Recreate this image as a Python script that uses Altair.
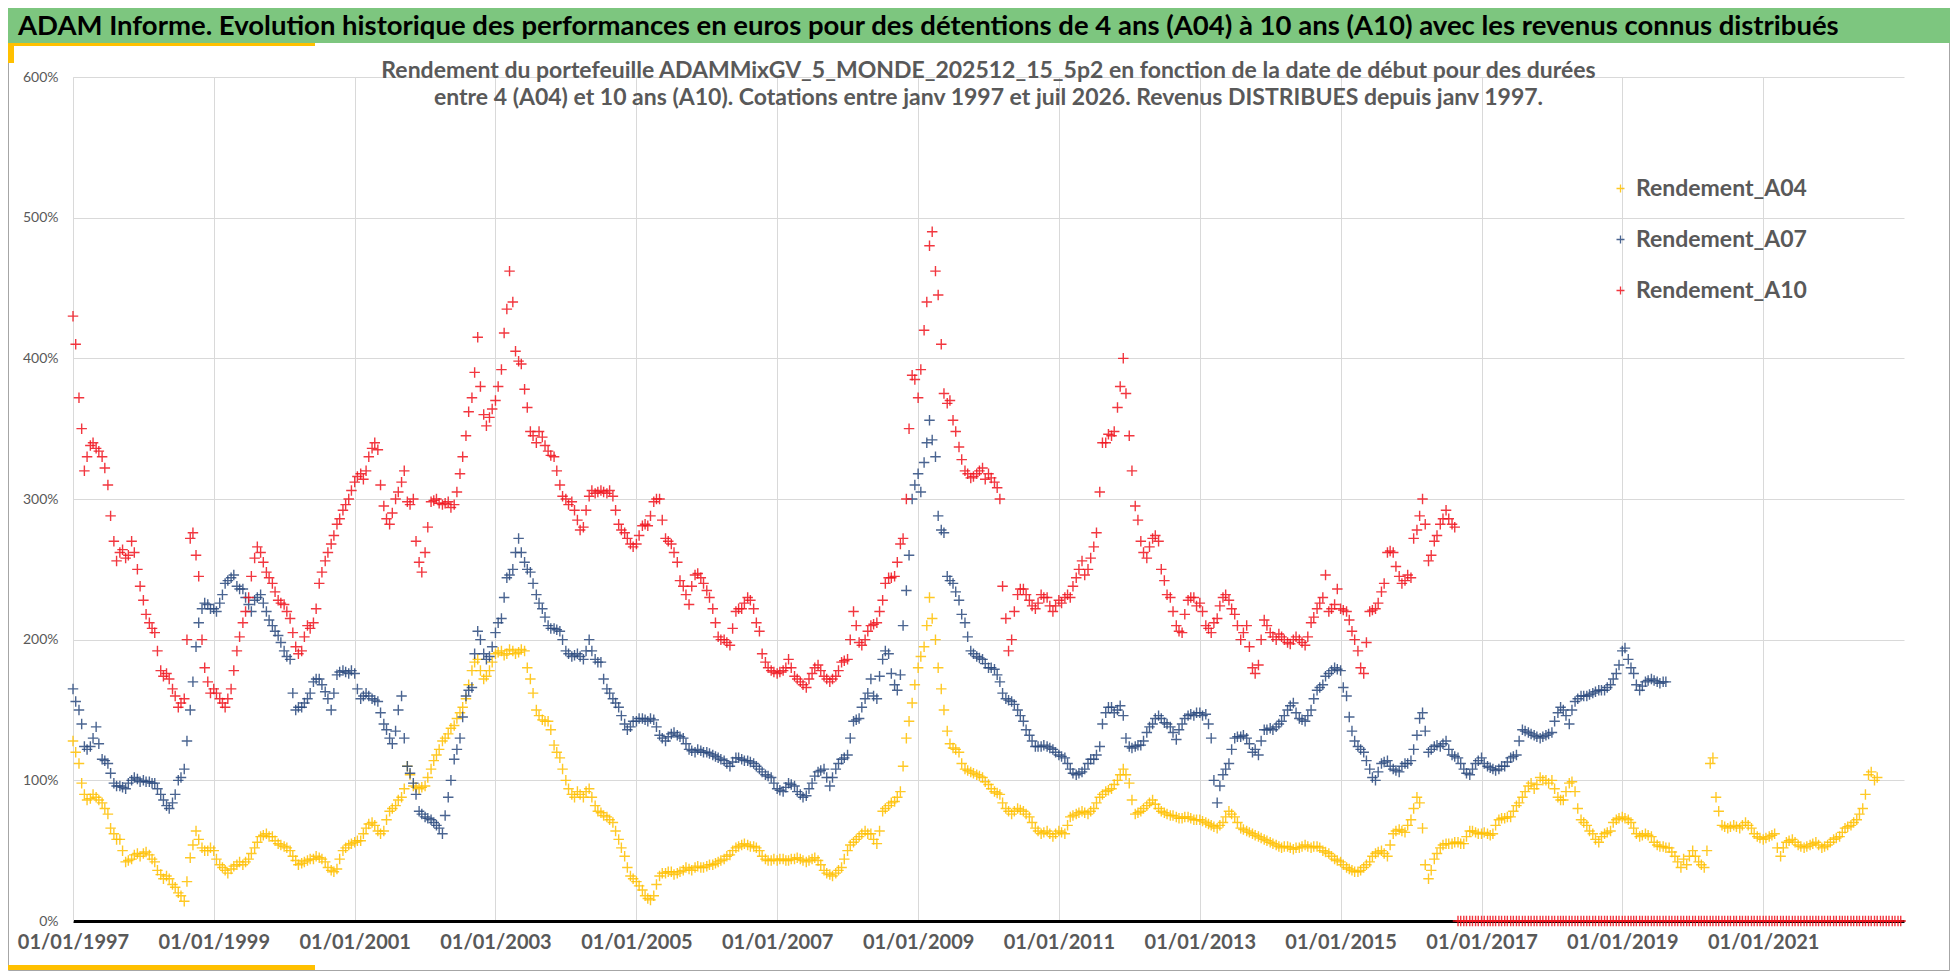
import pandas as pd
import altair as alt

banner_title = ("ADAM Informe. Evolution historique des performances en euros pour des "
                "détentions de 4 ans (A04) à 10 ans (A10) avec les revenus connus distribués")
chart_title = [
    "Rendement du portefeuille ADAMMixGV_5_MONDE_202512_15_5p2  en fonction de la date de début pour des durées",
    "entre 4 (A04) et 10 ans (A10). Cotations entre janv 1997 et juil 2026. Revenus DISTRIBUES depuis janv 1997.",
]

series_names = ["Rendement_A04", "Rendement_A07", "Rendement_A10"]
series_colours = ["#FFC000", "#2B4A7E", "#F0141E"]

tick_years = [1997, 1999, 2001, 2003, 2005, 2007, 2009, 2011, 2013, 2015, 2017, 2019, 2021]
y_ticks = [0, 1, 2, 3, 4, 5, 6]

# values: on the 1st ("debut") and the 15th ("milieu") of each month from Jan 1997
a04_debut = [
    1.28, 1.12, 0.90, 0.87, 0.88, 0.84, 0.76, 0.62, 0.58, 0.42, 0.44, 0.48,
    0.48, 0.47, 0.42, 0.33, 0.32, 0.26, 0.20, 0.14, 0.45, 0.64, 0.52, 0.50,
    0.50, 0.40, 0.36, 0.37, 0.40, 0.40, 0.44, 0.52, 0.60, 0.62, 0.60, 0.55,
    0.53, 0.50, 0.43, 0.41, 0.43, 0.44, 0.45, 0.42, 0.36, 0.37, 0.50, 0.54,
    0.56, 0.57, 0.66, 0.70, 0.64, 0.64, 0.78, 0.82, 0.88, 1.10, 0.96, 0.94,
    0.96, 1.08, 1.18, 1.28, 1.33, 1.39, 1.48, 1.58, 1.78, 1.86, 1.72, 1.78,
    1.90, 1.92, 1.90, 1.92, 1.91, 1.92, 1.72, 1.50, 1.43, 1.42, 1.25, 1.16,
    1.00, 0.90, 0.92, 0.88, 0.94, 0.82, 0.77, 0.74, 0.70, 0.58, 0.46, 0.32,
    0.28, 0.22, 0.16, 0.18, 0.32, 0.34, 0.35, 0.34, 0.36, 0.37, 0.38, 0.38,
    0.39, 0.40, 0.42, 0.44, 0.47, 0.52, 0.54, 0.54, 0.53, 0.50, 0.44, 0.43,
    0.43, 0.44, 0.43, 0.44, 0.44, 0.42, 0.44, 0.43, 0.36, 0.33, 0.34, 0.38,
    0.50, 0.56, 0.60, 0.64, 0.62, 0.55, 0.78, 0.82, 0.85, 0.92, 1.30, 1.55,
    1.80, 1.95, 2.30, 2.00, 1.65, 1.35, 1.23, 1.20, 1.08, 1.06, 1.04, 1.02,
    0.97, 0.92, 0.90, 0.80, 0.76, 0.80, 0.78, 0.74, 0.66, 0.62, 0.64, 0.60,
    0.64, 0.62, 0.74, 0.76, 0.78, 0.76, 0.80, 0.88, 0.92, 0.94, 1.00, 1.08,
    0.98, 0.76, 0.78, 0.82, 0.86, 0.80, 0.77, 0.75, 0.74, 0.73, 0.74, 0.72,
    0.72, 0.70, 0.68, 0.66, 0.70, 0.78, 0.74, 0.66, 0.64, 0.62, 0.60, 0.58,
    0.56, 0.54, 0.52, 0.53, 0.51, 0.52, 0.54, 0.52, 0.53, 0.50, 0.48, 0.44,
    0.42, 0.38, 0.36, 0.35, 0.38, 0.42, 0.48, 0.50, 0.46, 0.62, 0.65, 0.63,
    0.72, 0.88, 0.66, 0.30, 0.44, 0.52, 0.55, 0.55, 0.56, 0.55, 0.64, 0.63,
    0.62, 0.62, 0.62, 0.72, 0.73, 0.74, 0.82, 0.88, 0.96, 0.94, 1.02, 1.00,
    1.00, 0.88, 0.86, 0.98, 0.92, 0.72, 0.68, 0.62, 0.56, 0.62, 0.64, 0.72,
    0.74, 0.72, 0.66, 0.60, 0.62, 0.60, 0.54, 0.53, 0.52, 0.46, 0.38, 0.40,
    0.50, 0.42, 0.38, 1.12, 0.88, 0.68, 0.66, 0.68, 0.66, 0.70, 0.66, 0.60,
    0.58, 0.60, 0.62, 0.46, 0.56, 0.58, 0.54, 0.52, 0.54, 0.56, 0.52, 0.54,
    0.58, 0.60, 0.66, 0.68, 0.72, 0.80, 1.04, 1.00,
]
a04_milieu = [
    1.20, 0.98, 0.86, 0.90, 0.86, 0.80, 0.66, 0.58, 0.50, 0.43, 0.47, 0.46,
    0.49, 0.44, 0.36, 0.30, 0.30, 0.24, 0.18, 0.28, 0.54, 0.58, 0.50, 0.52,
    0.44, 0.38, 0.34, 0.39, 0.42, 0.42, 0.48, 0.56, 0.61, 0.60, 0.57, 0.54,
    0.52, 0.46, 0.40, 0.42, 0.44, 0.46, 0.44, 0.38, 0.35, 0.44, 0.52, 0.55,
    0.57, 0.62, 0.69, 0.68, 0.62, 0.72, 0.80, 0.86, 0.94, 1.04, 0.95, 0.95,
    1.02, 1.14, 1.22, 1.30, 1.37, 1.44, 1.52, 1.68, 1.84, 1.78, 1.74, 1.84,
    1.91, 1.89, 1.93, 1.90, 1.93, 1.80, 1.62, 1.46, 1.42, 1.36, 1.20, 1.08,
    0.94, 0.88, 0.90, 0.92, 0.88, 0.78, 0.75, 0.72, 0.64, 0.52, 0.38, 0.30,
    0.25, 0.18, 0.15, 0.26, 0.34, 0.35, 0.33, 0.35, 0.38, 0.36, 0.39, 0.38,
    0.40, 0.41, 0.43, 0.46, 0.50, 0.53, 0.55, 0.53, 0.52, 0.46, 0.43, 0.44,
    0.44, 0.43, 0.44, 0.45, 0.43, 0.43, 0.45, 0.40, 0.34, 0.32, 0.36, 0.44,
    0.54, 0.58, 0.62, 0.62, 0.58, 0.64, 0.80, 0.84, 0.88, 1.10, 1.42, 1.68,
    1.88, 2.10, 2.15, 1.80, 1.50, 1.26, 1.22, 1.12, 1.07, 1.05, 1.03, 0.99,
    0.94, 0.91, 0.84, 0.78, 0.78, 0.79, 0.76, 0.70, 0.64, 0.63, 0.62, 0.62,
    0.63, 0.68, 0.75, 0.77, 0.77, 0.78, 0.84, 0.90, 0.93, 0.97, 1.04, 1.04,
    0.86, 0.77, 0.80, 0.84, 0.83, 0.78, 0.76, 0.75, 0.73, 0.74, 0.73, 0.72,
    0.71, 0.69, 0.67, 0.68, 0.74, 0.76, 0.70, 0.65, 0.63, 0.61, 0.59, 0.57,
    0.55, 0.53, 0.53, 0.52, 0.52, 0.53, 0.53, 0.53, 0.52, 0.49, 0.46, 0.43,
    0.40, 0.37, 0.35, 0.36, 0.40, 0.46, 0.49, 0.48, 0.54, 0.64, 0.64, 0.68,
    0.80, 0.84, 0.40, 0.36, 0.48, 0.54, 0.55, 0.56, 0.55, 0.60, 0.64, 0.62,
    0.63, 0.61, 0.68, 0.73, 0.74, 0.78, 0.84, 0.92, 0.98, 0.97, 1.00, 0.98,
    0.94, 0.86, 0.92, 0.99, 0.80, 0.70, 0.64, 0.58, 0.60, 0.63, 0.70, 0.73,
    0.73, 0.70, 0.62, 0.61, 0.61, 0.56, 0.53, 0.52, 0.49, 0.42, 0.44, 0.46,
    0.46, 0.40, 0.50, 1.16, 0.78, 0.67, 0.67, 0.67, 0.68, 0.68, 0.62, 0.59,
    0.59, 0.61, 0.52, 0.52, 0.57, 0.56, 0.53, 0.53, 0.55, 0.54, 0.53, 0.56,
    0.59, 0.63, 0.67, 0.70, 0.76, 0.90, 1.06, 1.02,
]
a07_debut = [
    1.65, 1.50, 1.24, 1.24, 1.38, 1.15, 1.12, 0.98, 0.96, 0.94, 1.00, 1.01,
    1.00, 0.99, 0.98, 0.90, 0.82, 0.84, 1.00, 1.08, 1.50, 1.95, 2.22, 2.25,
    2.22, 2.26, 2.40, 2.44, 2.38, 2.36, 2.25, 2.28, 2.32, 2.20, 2.10, 2.03,
    1.92, 1.86, 1.50, 1.52, 1.58, 1.70, 1.72, 1.63, 1.50, 1.75, 1.78, 1.76,
    1.76, 1.58, 1.62, 1.58, 1.56, 1.40, 1.30, 1.35, 1.60, 1.10, 0.98, 0.78,
    0.74, 0.72, 0.68, 0.62, 0.88, 1.15, 1.30, 1.60, 1.66, 2.06, 1.90, 1.88,
    2.05, 2.15, 2.44, 2.50, 2.72, 2.55, 2.48, 2.32, 2.22, 2.10, 2.08, 2.06,
    1.92, 1.88, 1.90, 1.86, 2.00, 1.86, 1.84, 1.65, 1.58, 1.52, 1.40, 1.38,
    1.42, 1.44, 1.42, 1.43, 1.32, 1.28, 1.33, 1.32, 1.30, 1.22, 1.20, 1.21,
    1.20, 1.18, 1.16, 1.14, 1.10, 1.16, 1.15, 1.14, 1.12, 1.08, 1.04, 1.02,
    0.94, 0.92, 0.98, 0.96, 0.90, 0.89, 0.98, 1.06, 1.08, 0.96, 1.08, 1.15,
    1.18, 1.42, 1.44, 1.58, 1.72, 1.58, 1.86, 1.90, 1.68, 1.75, 2.35, 3.00,
    3.18, 3.26, 3.56, 3.30, 2.78, 2.45, 2.40, 2.28, 2.12, 1.92, 1.88, 1.86,
    1.80, 1.79, 1.70, 1.58, 1.56, 1.50, 1.42, 1.32, 1.24, 1.24, 1.24, 1.22,
    1.18, 1.16, 1.08, 1.04, 1.06, 1.12, 1.15, 1.24, 1.48, 1.52, 1.50, 1.46,
    1.24, 1.24, 1.25, 1.34, 1.40, 1.46, 1.41, 1.38, 1.29, 1.40, 1.46, 1.46,
    1.48, 1.47, 1.30, 0.84, 1.04, 1.12, 1.30, 1.31, 1.30, 1.20, 1.18, 1.36,
    1.37, 1.38, 1.42, 1.50, 1.55, 1.44, 1.42, 1.50, 1.64, 1.68, 1.76, 1.80,
    1.78, 1.60, 1.35, 1.24, 1.20, 1.08, 1.00, 1.12, 1.14, 1.08, 1.06, 1.12,
    1.14, 1.32, 1.48, 1.20, 1.24, 1.24, 1.28, 1.18, 1.16, 1.08, 1.04, 1.12,
    1.16, 1.10, 1.08, 1.08, 1.10, 1.16, 1.18, 1.36, 1.34, 1.32, 1.30, 1.32,
    1.34, 1.48, 1.50, 1.40, 1.56, 1.60, 1.60, 1.62, 1.64, 1.64, 1.68, 1.76,
    1.92, 1.86, 1.76, 1.64, 1.70, 1.72, 1.70, 1.70,
]
a07_milieu = [
    1.56, 1.40, 1.22, 1.30, 1.26, 1.14, 1.05, 0.96, 0.95, 0.98, 1.02, 0.99,
    0.99, 0.98, 0.94, 0.86, 0.80, 0.90, 1.02, 1.28, 1.70, 2.12, 2.26, 2.22,
    2.20, 2.32, 2.42, 2.46, 2.36, 2.30, 2.20, 2.30, 2.26, 2.14, 2.06, 1.98,
    1.88, 1.62, 1.52, 1.55, 1.62, 1.72, 1.68, 1.58, 1.62, 1.77, 1.77, 1.78,
    1.65, 1.60, 1.60, 1.57, 1.48, 1.36, 1.26, 1.50, 1.30, 1.05, 0.90, 0.76,
    0.73, 0.70, 0.66, 0.75, 1.00, 1.22, 1.45, 1.64, 1.90, 2.00, 1.86, 1.95,
    2.12, 2.30, 2.46, 2.62, 2.62, 2.50, 2.40, 2.26, 2.16, 2.08, 2.07, 2.00,
    1.90, 1.89, 1.88, 1.92, 1.92, 1.84, 1.72, 1.62, 1.55, 1.46, 1.36, 1.42,
    1.44, 1.43, 1.44, 1.38, 1.30, 1.31, 1.34, 1.31, 1.26, 1.21, 1.22, 1.20,
    1.19, 1.17, 1.15, 1.12, 1.13, 1.16, 1.14, 1.13, 1.10, 1.06, 1.03, 0.98,
    0.93, 0.95, 0.97, 0.92, 0.88, 0.94, 1.03, 1.07, 1.02, 1.02, 1.12, 1.16,
    1.30, 1.43, 1.52, 1.62, 1.60, 1.74, 1.92, 1.76, 1.64, 2.10, 2.60, 3.10,
    3.05, 3.40, 3.42, 2.88, 2.76, 2.42, 2.34, 2.18, 2.02, 1.90, 1.87, 1.83,
    1.80, 1.75, 1.62, 1.57, 1.54, 1.46, 1.36, 1.28, 1.24, 1.25, 1.23, 1.20,
    1.17, 1.12, 1.05, 1.05, 1.08, 1.15, 1.18, 1.40, 1.52, 1.48, 1.53, 1.30,
    1.23, 1.25, 1.28, 1.38, 1.44, 1.44, 1.40, 1.34, 1.36, 1.44, 1.47, 1.48,
    1.46, 1.40, 1.00, 0.96, 1.08, 1.22, 1.31, 1.32, 1.26, 1.22, 1.28, 1.36,
    1.36, 1.40, 1.46, 1.53, 1.48, 1.43, 1.46, 1.58, 1.66, 1.74, 1.78, 1.79,
    1.66, 1.45, 1.28, 1.22, 1.14, 1.02, 1.06, 1.13, 1.10, 1.07, 1.10, 1.12,
    1.22, 1.44, 1.35, 1.22, 1.25, 1.26, 1.22, 1.17, 1.12, 1.05, 1.08, 1.14,
    1.12, 1.09, 1.07, 1.10, 1.13, 1.17, 1.28, 1.35, 1.33, 1.31, 1.31, 1.33,
    1.42, 1.52, 1.46, 1.50, 1.58, 1.60, 1.61, 1.63, 1.64, 1.66, 1.72, 1.82,
    1.94, 1.80, 1.68, 1.67, 1.71, 1.71, 1.69, 1.70,
]
a10_debut = [
    4.30, 3.72, 3.20, 3.38, 3.36, 3.30, 3.10, 2.70, 2.62, 2.58, 2.70, 2.50,
    2.28, 2.12, 2.05, 1.78, 1.76, 1.65, 1.52, 1.58, 2.72, 2.60, 2.00, 1.70,
    1.65, 1.58, 1.52, 1.65, 1.92, 2.12, 2.30, 2.58, 2.62, 2.48, 2.40, 2.28,
    2.25, 2.15, 1.95, 1.92, 2.10, 2.12, 2.40, 2.56, 2.68, 2.82, 2.92, 3.00,
    3.12, 3.18, 3.20, 3.36, 3.35, 2.95, 2.82, 3.00, 3.12, 2.98, 3.00, 2.55,
    2.62, 2.98, 3.00, 2.96, 2.98, 2.96, 3.18, 3.45, 3.72, 4.15, 3.60, 3.58,
    3.70, 3.92, 4.35, 4.40, 3.98, 3.78, 3.48, 3.40, 3.44, 3.34, 3.30, 3.10,
    3.00, 2.98, 2.85, 2.80, 3.02, 3.04, 3.06, 3.04, 3.02, 2.82, 2.76, 2.68,
    2.68, 2.81, 2.81, 2.98, 3.00, 2.72, 2.68, 2.55, 2.38, 2.25, 2.46, 2.44,
    2.35, 2.22, 2.02, 2.00, 1.96, 2.20, 2.22, 2.30, 2.22, 2.06, 1.84, 1.78,
    1.76, 1.78, 1.86, 1.74, 1.70, 1.66, 1.76, 1.82, 1.74, 1.70, 1.74, 1.84,
    1.86, 2.20, 1.98, 2.00, 2.10, 2.12, 2.28, 2.44, 2.45, 2.68, 3.00, 3.88,
    3.72, 4.20, 4.80, 4.62, 4.10, 3.68, 3.56, 3.37, 3.20, 3.15, 3.18, 3.22,
    3.18, 3.12, 3.00, 2.15, 2.00, 2.32, 2.36, 2.28, 2.22, 2.32, 2.30, 2.20,
    2.28, 2.30, 2.30, 2.44, 2.56, 2.50, 2.66, 3.05, 3.40, 3.45, 3.65, 4.00,
    3.45, 2.95, 2.70, 2.58, 2.72, 2.70, 2.42, 2.30, 2.10, 2.05, 2.28, 2.30,
    2.26, 2.10, 2.05, 2.15, 2.30, 2.28, 2.18, 2.00, 2.10, 1.80, 1.82, 2.14,
    2.05, 2.00, 2.02, 1.98, 2.00, 2.00, 1.96, 2.12, 2.22, 2.30, 2.20, 2.25,
    2.22, 2.20, 2.06, 1.92, 1.76, 2.20, 2.22, 2.34, 2.62, 2.62, 2.45, 2.42,
    2.44, 2.78, 3.00, 2.56, 2.70, 2.82, 2.92, 2.82,
]
a10_milieu = [
    4.10, 3.50, 3.30, 3.40, 3.34, 3.22, 2.88, 2.56, 2.64, 2.60, 2.62, 2.38,
    2.18, 2.08, 1.92, 1.74, 1.72, 1.60, 1.55, 2.00, 2.76, 2.45, 1.80, 1.62,
    1.62, 1.55, 1.58, 1.78, 2.02, 2.20, 2.45, 2.66, 2.55, 2.44, 2.34, 2.26,
    2.20, 2.05, 1.90, 2.02, 2.08, 2.22, 2.48, 2.62, 2.74, 2.86, 2.96, 3.06,
    3.16, 3.14, 3.30, 3.40, 3.10, 2.86, 2.90, 3.05, 3.20, 2.96, 2.70, 2.48,
    2.80, 2.99, 2.97, 2.97, 2.94, 3.05, 3.30, 3.62, 3.90, 3.80, 3.52, 3.64,
    3.80, 4.18, 4.62, 4.05, 3.96, 3.65, 3.45, 3.48, 3.38, 3.31, 3.20, 3.02,
    2.96, 2.92, 2.78, 2.92, 3.06, 3.05, 3.05, 3.06, 2.92, 2.78, 2.72, 2.66,
    2.74, 2.82, 2.88, 3.00, 2.85, 2.70, 2.62, 2.42, 2.32, 2.38, 2.47, 2.40,
    2.30, 2.12, 2.00, 1.98, 2.08, 2.22, 2.26, 2.28, 2.12, 1.90, 1.80, 1.77,
    1.77, 1.80, 1.80, 1.72, 1.68, 1.72, 1.80, 1.78, 1.72, 1.72, 1.78, 1.85,
    2.00, 2.10, 1.96, 2.06, 2.11, 2.20, 2.40, 2.44, 2.55, 2.72, 3.50, 3.85,
    3.92, 4.40, 4.90, 4.45, 3.75, 3.70, 3.48, 3.28, 3.18, 3.16, 3.20, 3.14,
    3.15, 3.08, 2.38, 1.92, 2.20, 2.36, 2.32, 2.24, 2.26, 2.30, 2.24, 2.24,
    2.26, 2.32, 2.38, 2.50, 2.46, 2.58, 2.76, 3.40, 3.46, 3.48, 3.80, 3.75,
    3.20, 2.85, 2.62, 2.66, 2.74, 2.50, 2.32, 2.20, 2.06, 2.18, 2.30, 2.24,
    2.20, 2.08, 2.12, 2.24, 2.32, 2.22, 2.10, 2.05, 1.95, 1.76, 2.00, 2.10,
    2.02, 2.04, 2.00, 1.97, 2.02, 1.98, 2.02, 2.16, 2.26, 2.46, 2.22, 2.36,
    2.21, 2.14, 2.00, 1.80, 1.98, 2.21, 2.26, 2.40, 2.63, 2.52, 2.40, 2.46,
    2.72, 2.88, 2.82, 2.60, 2.74, 2.86, 2.86, 2.80,
]
# from September 2016 the 10-year series has no value yet and sits on 0
a10_vide_debut = [0.0] * 76
a10_vide_milieu = [0.0] * 76


def monthly_frame(values, start, name, day_shift):
    dates = pd.date_range(start, periods=len(values), freq="MS") + pd.Timedelta(days=day_shift)
    return pd.DataFrame({"date": dates, "rendement": values, "serie": name})


df = pd.concat([
    monthly_frame(a04_debut, "1997-01-01", "Rendement_A04", 0),
    monthly_frame(a04_milieu, "1997-01-01", "Rendement_A04", 14),
    monthly_frame(a07_debut, "1997-01-01", "Rendement_A07", 0),
    monthly_frame(a07_milieu, "1997-01-01", "Rendement_A07", 14),
    monthly_frame(a10_debut, "1997-01-01", "Rendement_A10", 0),
    monthly_frame(a10_milieu, "1997-01-01", "Rendement_A10", 14),
    monthly_frame(a10_vide_debut, "2016-09-01", "Rendement_A10", 0),
    monthly_frame(a10_vide_milieu, "2016-09-01", "Rendement_A10", 14),
], ignore_index=True)

cross = "M-1,0L1,0M0,-1L0,1"
grey_text = "#595959"
W, H = 1831, 844

points = alt.Chart(df).mark_point(
    shape=cross, filled=False, size=110, strokeWidth=1.4, opacity=0.85
).encode(
    x=alt.X("date:T",
            scale=alt.Scale(domain=[alt.DateTime(year=1997, month=1, date=1),
                                    alt.DateTime(year=2023, month=1, date=1)]),
            axis=alt.Axis(values=[alt.DateTime(year=y, month=1, date=1) for y in tick_years],
                          format="%d/%m/%Y", title=None, grid=True, gridColor="#D9D9D9",
                          domainColor="black", domainWidth=3, ticks=False,
                          labelFont="Lato", labelFontSize=20, labelFontWeight="bold",
                          labelColor=grey_text, labelPadding=11, labelFlush=False)),
    y=alt.Y("rendement:Q",
            scale=alt.Scale(domain=[0, 6], nice=False),
            axis=alt.Axis(values=y_ticks, format=".0%", title=None, grid=True,
                          gridColor="#D9D9D9", domainColor="#D9D9D9", ticks=False,
                          labelFont="Lato", labelFontSize=14, labelColor=grey_text,
                          labelPadding=15)),
    color=alt.Color("serie:N",
                    scale=alt.Scale(domain=series_names, range=series_colours),
                    legend=alt.Legend(orient="none", legendX=1536, legendY=100, title=None,
                                      symbolType=cross, symbolSize=64, symbolStrokeWidth=1.3,
                                      labelFont="Lato", labelFontSize=23,
                                      labelFontWeight="bold", labelColor=grey_text,
                                      labelLimit=400, labelOffset=4, rowPadding=27)),
)

one = pd.DataFrame({"k": [0]})


def box(x, x2, y, y2, colour):
    return alt.Chart(one).mark_rect(color=colour).encode(
        x=alt.value(x), x2=alt.value(x2), y=alt.value(y), y2=alt.value(y2))


frame_border = alt.Chart(one).mark_rect(fill=None, stroke="#A6A6A6", strokeWidth=1).encode(
    x=alt.value(-64.5), x2=alt.value(1876.5), y=alt.value(-68.5), y2=alt.value(893.5))
banner = box(-65, 1877, -69, -34, "#7DC67F")
yellow_top = box(-65, 242, -34, -31, "#FFC000")
yellow_left = box(-65, -59, -31, -14, "#FFC000")
yellow_bottom = box(-65, 242, 888, 893, "#FFC000")

banner_text = alt.Chart(one).mark_text(
    text=banner_title, align="left", baseline="middle", font="Lato", fontSize=27.5,
    fontWeight="bold", color="black"
).encode(x=alt.value(-55), y=alt.value(-50))

title_text = alt.Chart(one).mark_text(
    text=chart_title, align="center", baseline="middle", font="Lato", fontSize=23,
    fontWeight="bold", color=grey_text, lineHeight=27
).encode(x=alt.value(W / 2), y=alt.value(-6))

chart = alt.layer(
    frame_border, banner, yellow_top, yellow_left, yellow_bottom,
    points, banner_text, title_text
).properties(
    width=W, height=H,
    autosize=alt.AutoSizeParams(type="none"),
    padding={"left": 65, "top": 69, "right": 46, "bottom": 50},
).configure_view(stroke=None)

chart.save("out.html", embed_options={"renderer": "svg", "actions": False})
